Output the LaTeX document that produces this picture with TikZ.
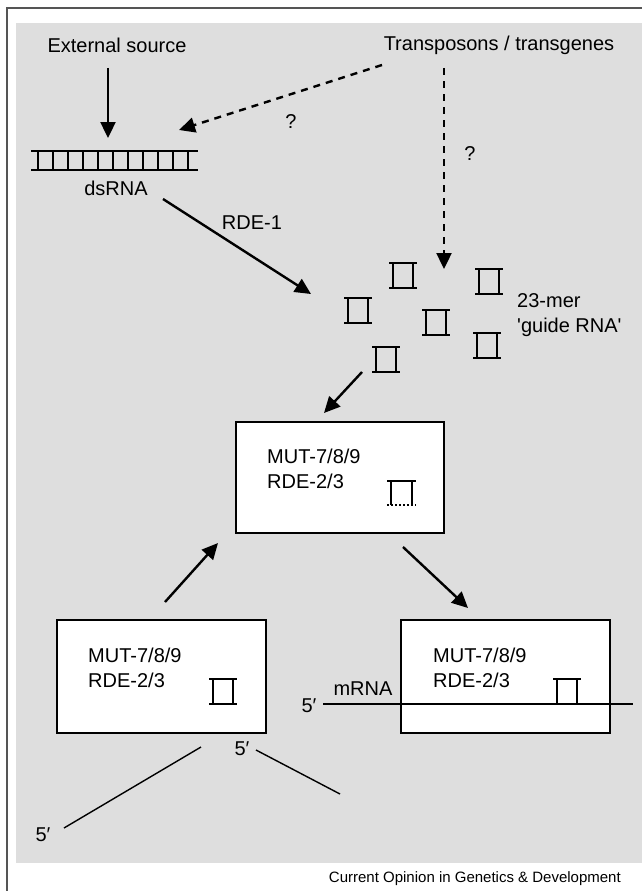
\documentclass[tikz,border=0pt]{standalone}
\usepackage{fontspec}
\setmainfont{Liberation Sans}
\usetikzlibrary{arrows.meta}
\definecolor{bg}{HTML}{DEDEDE}
\definecolor{framecol}{HTML}{555555}
\begin{document}
\begin{tikzpicture}[x=1pt,y=-1pt,
  lbl/.style={inner sep=0pt,font=\fontsize{20}{25}\selectfont},
  captxt/.style={inner sep=0pt,font=\fontsize{15}{18}\selectfont},
  arr/.style={line width=2.4pt,-{Triangle[length=16pt,width=15pt]}},
  darr/.style={arr,dash pattern=on 7pt off 6pt},
  lad/.style={line width=1.8pt},
  boxst/.style={draw,fill=white,line width=1.8pt},
  thinln/.style={line width=1.4pt},
  guide/.pic={\draw[lad] (0,0) -- (28,0) (0,25) -- (28,25) (4,0) -- (4,25) (24,0) -- (24,25);}
]
\useasboundingbox (0,0) rectangle (642,891);
% frame and background
\fill[bg] (16,23) rectangle (642,863);
\draw[framecol,line width=1.3pt] (7,891) -- (7,8) -- (642,8);

% top labels
\node[lbl] (ext) at (117,45) {External source};
\node[lbl] (trans) at (499,45) {Transposons / transgenes};

% dsRNA ladder
\draw[lad] (31,151) -- (198,151) (31,170) -- (198,170);
\foreach \i in {0,...,10} \draw[lad] (38+15*\i,151) -- (38+15*\i,170);
\node[lbl] (ds) at (116,188) {dsRNA};

% guide RNAs
\pic at (389,263) {guide};
\pic at (475,269) {guide};
\pic at (344,298) {guide};
\pic at (422,310) {guide};
\pic at (473,333) {guide};
\pic at (372,347) {guide};
\node[lbl,anchor=west,align=left] (gm) at (517,315.5) {23-mer\\\textquotesingle guide RNA\textquotesingle};

% question marks & RDE-1
\node[lbl] (q1) at (291,122) {?};
\node[lbl] (q2) at (470,154) {?};
\node[lbl] (rde1) at (252,223) {RDE-1};

% arrow endpoints
\coordinate (a1s) at (108,68);   \coordinate (a1e) at (108,138);
\coordinate (a2s) at (382,65);   \coordinate (a2e) at (179,130);
\coordinate (a3s) at (444,68);   \coordinate (a3e) at (444,269);
\coordinate (a4s) at (163,199);  \coordinate (a4e) at (311,294);
\coordinate (a5s) at (362,372);  \coordinate (a5e) at (324,413);
\coordinate (a6s) at (165,602);  \coordinate (a6e) at (218,543);
\coordinate (a7s) at (403,547);  \coordinate (a7e) at (468,608);

\draw[arr] (a1s) -- (a1e);
\draw[darr] (a2s) -- (a2e);
\draw[darr] (a3s) -- (a3e);
\draw[arr] (a4s) -- (a4e);
\draw[arr] (a5s) -- (a5e);
\draw[arr] (a6s) -- (a6e);
\draw[arr] (a7s) -- (a7e);

% top complex
\draw[boxst] (236,422) rectangle (444,533);
\node[lbl,anchor=west,align=left] (t1) at (267,469) {MUT-7/8/9\\RDE-2/3};
\draw[lad] (387,481) -- (416,481) (391,481) -- (391,505) (412,481) -- (412,505);
\draw[line width=1.6pt,dash pattern=on 2pt off 2pt] (387,505) -- (416,505);

% left complex
\draw[boxst] (57,620) rectangle (266,733);
\node[lbl,anchor=west,align=left] (t2) at (88,667.5) {MUT-7/8/9\\RDE-2/3};
\pic at (209,679) {guide};

% right complex
\draw[boxst] (401,620) rectangle (610,733);
\node[lbl,anchor=west,align=left] (t3) at (433,667.5) {MUT-7/8/9\\RDE-2/3};
\coordinate (m1) at (323,704); \coordinate (m2) at (633,704);
\draw[thinln] (m1) -- (m2);
\pic at (553,679) {guide};
\node[lbl] (mrna) at (363,689) {mRNA};
\node[lbl] (p1) at (309,706) {5′};

% cleaved fragments
\node[lbl] (p2) at (242,749) {5′};
\node[lbl] (p3) at (43,835) {5′};
\coordinate (f1a) at (201,747); \coordinate (f1b) at (64,828);
\coordinate (f2a) at (256,750); \coordinate (f2b) at (340,794);
\draw[thinln] (f1a) -- (f1b);
\draw[thinln] (f2a) -- (f2b);

% caption
\node[captxt,anchor=east] (capt) at (621,879) {Current Opinion in Genetics \& Development};
\end{tikzpicture}
\end{document}
